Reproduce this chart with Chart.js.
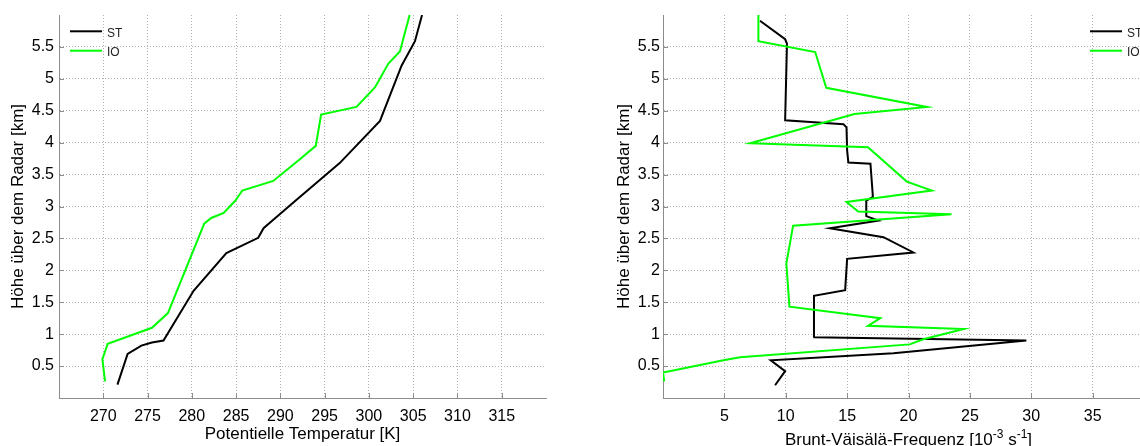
<!DOCTYPE html>
<html>
<head>
<meta charset="utf-8">
<script src="https://cdn.jsdelivr.net/npm/chart.js@4/dist/chart.umd.min.js"></script>
<style>
  html, body { margin: 0; padding: 0; background: #fff; overflow: hidden; width: 1140px; height: 446px; }
  #wrap { position: relative; width: 1140px; height: 446px; overflow: hidden; }
  canvas { position: absolute; top: 0; }
  #thetaChart { left: 0; }
  #nChart { left: 600px; }
</style>
</head>
<body>
<div id="wrap">
  <canvas id="thetaChart" width="570" height="446"></canvas>
  <canvas id="nChart" width="570" height="446"></canvas>
</div>
<script>
// ---- Potential temperature profiles [K] over height above radar [km] ----
const stThetaHeight = [0.21, 0.69, 0.82, 0.87, 0.90, 1.68, 2.27, 2.51, 2.66, 2.84, 3.09, 3.68, 4.34, 5.21, 5.59, 6.00];
const stTheta       = [271.6, 272.75, 274.3, 275.5, 276.8, 280.2, 283.9, 287.5, 288.1, 289.6, 291.7, 296.7, 301.25, 303.7, 305.2, 306.0];

const ioThetaHeight = [0.26, 0.61, 0.85, 1.10, 1.33, 2.73, 2.82, 2.90, 3.09, 3.25, 3.40, 3.74, 3.95, 4.44, 4.56, 4.87, 5.24, 5.43, 6.00];
const ioTheta       = [270.2, 269.9, 270.5, 275.5, 277.3, 281.4, 282.2, 283.6, 284.9, 285.7, 289.2, 292.2, 294.0, 294.6, 298.6, 300.7, 302.2, 303.5, 304.6];

// ---- Brunt-Väisälä frequency profiles [10^-3 s^-1] ----
const stNHeight = [0.20, 0.42, 0.59, 0.70, 0.90, 0.95, 1.60, 1.69, 2.18, 2.28, 2.52, 2.66, 2.78, 2.85, 3.09, 3.15, 3.67, 3.69, 3.88, 4.24, 4.29, 4.35, 5.55, 5.62, 5.91];
const stN       = [9.13, 9.95, 8.78, 18.77, 29.6, 12.25, 12.3, 14.84, 15.0, 20.4, 17.96, 13.6, 17.55, 16.56, 16.56, 17.1, 16.9, 15.1, 15.0, 14.95, 14.7, 9.95, 10.1, 9.95, 7.9];

const ioNHeight = [0.26, 0.40, 0.59, 0.64, 0.84, 0.92, 1.08, 1.13, 1.25, 1.43, 2.11, 2.70, 2.88, 2.92, 3.07, 3.25, 3.39, 3.93, 3.99, 4.45, 4.56, 4.86, 5.42, 5.59, 6.00];
const ioN       = [0.1, 0.0, 4.92, 6.28, 20.1, 21.2, 24.5, 16.7, 17.7, 10.3, 10.05, 10.6, 23.5, 15.9, 14.95, 21.9, 19.86, 16.7, 7.1, 15.6, 21.5, 13.3, 12.4, 7.77, 7.77];

// ---- Axes ----
const seriesNames  = ['ST', 'IO'];
const heightTicks  = [0.5, 1, 1.5, 2, 2.5, 3, 3.5, 4, 4.5, 5, 5.5];
const thetaTicks   = [270, 275, 280, 285, 290, 295, 300, 305, 310, 315];
const freqTicks    = [5, 10, 15, 20, 25, 30, 35];

const FONT = "'Liberation Sans', Arial, Helvetica, sans-serif";
const toPoints = (xs, ys) => xs.map((v, i) => ({ x: v, y: ys[i] }));

// Inward tick marks, in-axes legend and an optional rich-text x label
const profileDecor = {
  id: 'profileDecor',
  afterDraw(chart, args, opts) {
    const ctx = chart.ctx, area = chart.chartArea;
    const xs = chart.scales.x, ys = chart.scales.y;
    ctx.save();

    ctx.strokeStyle = opts.tickColor;
    ctx.lineWidth = 1;
    ctx.beginPath();
    xs.ticks.forEach(t => {
      const px = Math.round(xs.getPixelForValue(t.value)) + 0.5;
      ctx.moveTo(px, area.bottom);
      ctx.lineTo(px, area.bottom - opts.tickLen);
    });
    ys.ticks.forEach(t => {
      const py = Math.round(ys.getPixelForValue(t.value)) + 0.5;
      ctx.moveTo(area.left, py);
      ctx.lineTo(area.left + opts.tickLen, py);
    });
    ctx.stroke();

    // legend
    const x0 = opts.legendFromRight ? area.right - opts.legendX : area.left + opts.legendX;
    ctx.font = '12px ' + FONT;
    ctx.textBaseline = 'middle';
    ctx.textAlign = 'left';
    seriesNames.forEach((name, i) => {
      const ds = chart.data.datasets.find(d => d.label === name);
      const y = area.top + opts.legendTop + i * opts.legendRow;
      ctx.strokeStyle = ds.borderColor;
      ctx.lineWidth = 2;
      ctx.beginPath();
      ctx.moveTo(x0, y);
      ctx.lineTo(x0 + 32, y);
      ctx.stroke();
      ctx.fillStyle = '#222';
      ctx.fillText(name, x0 + 37, y + 2);
    });

    // x label with superscripts
    if (opts.xLabelParts) {
      const parts = opts.xLabelParts;
      const fontOf = p => (p.sup ? '12px ' : '17px ') + FONT;
      const widths = parts.map(p => { ctx.font = fontOf(p); return ctx.measureText(p.t).width; });
      const total = widths.reduce((a, b) => a + b, 0);
      let x = (area.left + area.right) / 2 - total / 2;
      ctx.fillStyle = '#000';
      ctx.textBaseline = 'alphabetic';
      parts.forEach((p, i) => {
        ctx.font = fontOf(p);
        ctx.fillText(p.t, x, opts.xLabelBaseline - (p.sup ? 7 : 0));
        x += widths[i];
      });
    }
    ctx.restore();
  }
};

function makeProfileChart(canvas, cfg) {
  return new Chart(canvas, {
    type: 'scatter',
    data: {
      datasets: [
        { label: 'ST', data: cfg.st, borderColor: '#000000', borderWidth: 2, order: 1 },
        { label: 'IO', data: cfg.io, borderColor: '#00ff00', borderWidth: 2, order: 0 }
      ].map(d => Object.assign(d, { showLine: true, pointRadius: 0, pointHoverRadius: 0, tension: 0, fill: false }))
    },
    options: {
      responsive: false,
      animation: false,
      events: [],
      locale: 'en-US',
      layout: { padding: { top: 15, right: cfg.padRight, bottom: 0, left: 0 } },
      plugins: {
        legend: { display: false },
        tooltip: { enabled: false },
        profileDecor: {
          tickColor: '#8c8c8c', tickLen: 5,
          legendFromRight: cfg.legendFromRight, legendX: cfg.legendX,
          legendTop: 16.3, legendRow: 19.4,
          xLabelParts: cfg.xLabelParts, xLabelBaseline: 444.5
        }
      },
      scales: {
        x: {
          type: 'linear', min: cfg.xMin, max: cfg.xMax,
          afterBuildTicks: s => { s.ticks = cfg.xTicks.map(v => ({ value: v })); },
          afterFit: s => { s.height = 48; },
          grid: { color: '#b0b0b0', lineWidth: 1, drawTicks: false },
          border: { display: true, color: '#8c8c8c', width: 1, dash: [1, 2] },
          ticks: { font: { family: FONT, size: 16 }, color: '#000', padding: 9, maxRotation: 0, callback: v => String(v) },
          title: {
            display: !!cfg.xTitle, text: cfg.xTitle || '', color: '#000',
            font: { family: FONT, size: 17 }, padding: { top: 0, bottom: 1 }
          }
        },
        y: {
          type: 'linear', min: 0, max: 6,
          afterBuildTicks: s => { s.ticks = heightTicks.map(v => ({ value: v })); },
          afterFit: s => { s.width = cfg.yWidth; },
          grid: { color: '#b0b0b0', lineWidth: 1, drawTicks: false },
          border: { display: true, color: '#8c8c8c', width: 1, dash: [1, 2] },
          ticks: { font: { family: FONT, size: 16 }, color: '#000', padding: cfg.yTickPad, callback: v => String(v) },
          title: {
            display: true, text: 'Höhe über dem Radar [km]', color: '#000',
            font: { family: FONT, size: 17 }, padding: { top: cfg.yTitlePad, bottom: 0 }
          }
        }
      }
    },
    plugins: [profileDecor]
  });
}

makeProfileChart(document.getElementById('thetaChart'), {
  st: toPoints(stTheta, stThetaHeight),
  io: toPoints(ioTheta, ioThetaHeight),
  xMin: 265, xMax: 320, xTicks: thetaTicks,
  xTitle: 'Potentielle Temperatur [K]',
  yWidth: 59, padRight: 24, yTickPad: 5, yTitlePad: 8.5,
  legendFromRight: false, legendX: 11
});

makeProfileChart(document.getElementById('nChart'), {
  st: toPoints(stN, stNHeight),
  io: toPoints(ioN, ioNHeight),
  xMin: 0, xMax: 40, xTicks: freqTicks,
  xTitle: null,
  xLabelParts: [
    { t: 'Brunt-Väisälä-Frequenz [10' }, { t: '-3', sup: true },
    { t: ' s' }, { t: '-1', sup: true }, { t: ']' }
  ],
  yWidth: 63, padRight: 16, yTickPad: 3, yTitlePad: 13.8,
  legendFromRight: true, legendX: 64
});
</script>
</body>
</html>
